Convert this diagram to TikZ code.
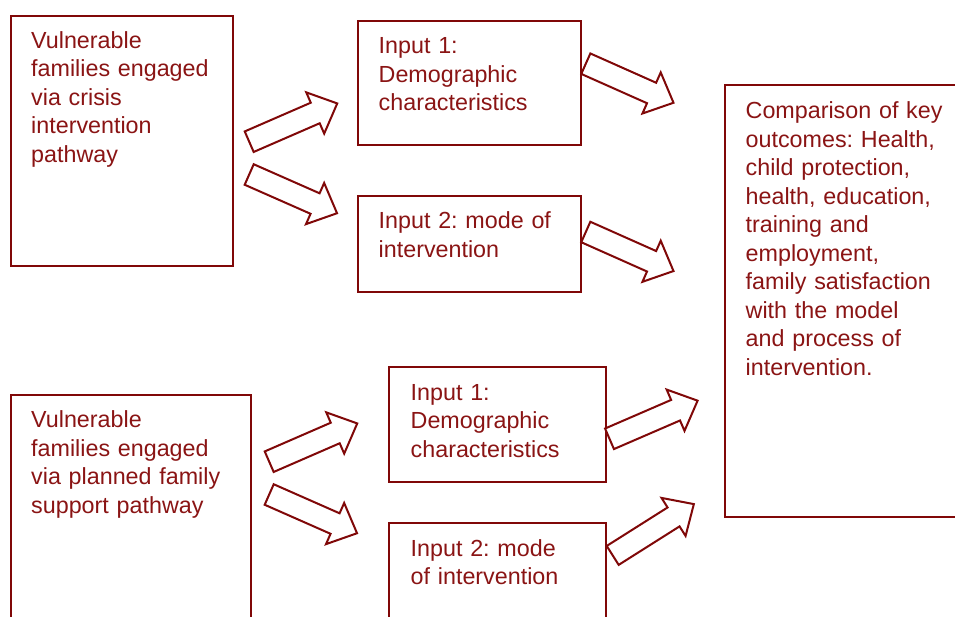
\documentclass[tikz,border=0pt]{standalone}
\usepackage{fontspec}
\setmainfont{Liberation Sans}
\frenchspacing
\definecolor{boxred}{RGB}{128,8,8}
\definecolor{txtred}{RGB}{138,20,20}
\tikzset{
  boxline/.style={draw=boxred, line width=2pt},
  txt/.style={anchor=base west, inner sep=0pt, text=txtred, align=left,
              text width=#1, font=\fontsize{23.3}{28.5}\selectfont\frenchspacing},
  barrow/.pic={
    \draw[boxred, line width=2pt, line join=miter, fill=white]
      (0,-11.2) -- (72,-11.2) -- (72,-22.5) -- (96,0) -- (72,22.5) -- (72,11.2) -- (0,11.2) -- cycle;
  }
}
\begin{document}
\begin{tikzpicture}[x=1pt,y=-1pt]
\useasboundingbox (0,0) rectangle (955,617);
\clip (0,0) rectangle (955,617);
% boxes
\draw[boxline] (11,16) rectangle (232.5,266);
\draw[boxline] (357.5,21) rectangle (581,145.5);
\draw[boxline] (357.5,196) rectangle (581,292.5);
\draw[boxline] (725,85) rectangle (965,517);
\draw[boxline] (11,395) rectangle (251,640);
\draw[boxline] (389,367) rectangle (605.5,482);
\draw[boxline] (389,522.5) rectangle (605.5,640);
% texts
\node[txt=215pt] (a1) at (31,48.5) {Vulnerable\\families engaged\\via crisis\\intervention\\pathway};
\node[txt=200pt] (b1) at (378.5,54) {Input 1:\\Demographic\\characteristics};
\node[txt=200pt] (b2) at (378.5,229) {Input 2: mode of\\intervention};
\node[txt=220pt] (c) at (745.5,119) {Comparison of key\\outcomes: Health,\\child protection,\\health, education,\\training and\\employment,\\family satisfaction\\with the model\\and process of\\intervention.};
\node[txt=230pt] (a2) at (31,427.5) {Vulnerable\\families engaged\\via planned family\\support pathway};
\node[txt=200pt] (d1) at (410.5,400) {Input 1:\\Demographic\\characteristics};
\node[txt=200pt] (d2) at (410.5,556) {Input 2: mode\\of intervention};
% block arrows
\pic[rotate=23.5] at (249.2,141.7) {barrow};
\pic[rotate=-23.8] at (249.2,174.5) {barrow};
\pic[rotate=-24] at (585.8,63.7) {barrow};
\pic[rotate=-24] at (585.8,232) {barrow};
\pic[rotate=23.5] at (269.2,461.7) {barrow};
\pic[rotate=-23.8] at (269.2,494.5) {barrow};
\pic[rotate=23.4] at (609.5,438.8) {barrow};
\pic[rotate=32.3] at (612.7,555.4) {barrow};
\end{tikzpicture}
\end{document}
